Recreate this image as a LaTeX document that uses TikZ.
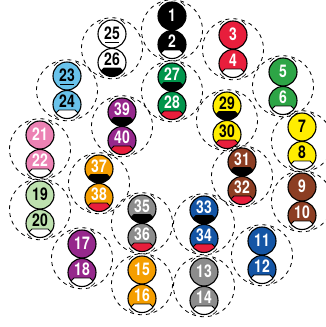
\documentclass[tikz,border=0pt]{standalone}
\usepackage{fontspec}
\newfontfamily\ballfont[FakeStretch=0.8]{TeX Gyre Heros}
\definecolor{kgruen}{RGB}{0,148,75}
\definecolor{kgruenb}{RGB}{45,165,70}
\definecolor{krot}{RGB}{232,30,60}
\definecolor{khellblau}{RGB}{105,195,235}
\definecolor{klila}{RGB}{150,40,140}
\definecolor{kgelb}{RGB}{255,237,0}
\definecolor{krosa}{RGB}{236,130,180}
\definecolor{kbraun}{RGB}{140,62,35}
\definecolor{korange}{RGB}{245,158,0}
\definecolor{khellgruen}{RGB}{190,225,175}
\definecolor{kgrau}{RGB}{140,140,140}
\definecolor{kblau}{RGB}{20,85,165}
\def\keine{none}
\tikzset{
  kugel/.style={circle, draw, line width=1.1pt, minimum size=28pt, inner sep=0pt},
  nummer/.style={inner sep=0pt, font=\ballfont\bfseries\fontsize{17.5}{17.5}\selectfont},
  ring/.style={line width=0.8pt, dash pattern=on 4pt off 4pt},
  tick/.style={line width=0.6pt},
}
% Kugel: Nummer, x, y, Farbe, Schrift, Kappe
\newcommand{\kugel}[6]{%
  \fill[#4] (#2,#3) circle (14);
  \edef\kappe{#6}%
  \ifx\kappe\keine
    \def\hoch{0.5pt}%
  \else
    \def\hoch{3pt}%
    \begin{scope}
      \clip (#2,#3) circle (14);
      \begin{scope}[shift={(#2,#3)}]
        \filldraw[fill=#6, draw=black, line width=0.9pt]
          (-8,5.5) -- (8,5.5) -- (15,12.5) -- (16,20) -- (-16,20) -- (-15,12.5) -- cycle;
      \end{scope}
    \end{scope}
  \fi
  \node[kugel] (k#1) at (#2,#3) {};
  \node[nummer, text=#5] at ([yshift=\hoch]k#1.center) {#1};
}
\begin{document}
\begin{tikzpicture}[x=1pt, y=-1pt]
\useasboundingbox (0,0) rectangle (325,327);
\def\paare{1/172/16/black/white/none/white,
  25/112/34/white/black/none/black,
  27/172/77/kgruen/white/black/krot,
  3/233/35/krot/white/none/white,
  5/283/72/kgruenb/white/none/white,
  23/67/76/khellblau/black/none/white,
  39/122/112/klila/white/black/krot,
  29/227/106/kgelb/black/black/krot,
  7/302/127/kgelb/black/none/white,
  21/40/135/krosa/white/none/white,
  31/242/162/kbraun/white/black/krot,
  37/99/169/korange/white/black/krot,
  9/302/187/kbraun/white/none/white,
  19/40/195/khellgruen/black/none/white,
  35/142/209/kgrau/white/black/krot,
  33/204/210/kblau/white/black/krot,
  11/262/241/kblau/white/none/white,
  17/82/244/klila/white/none/white,
  15/142/270/korange/white/none/white,
  13/204/272/kgrau/white/none/white}
% gestrichelte Kreise:
\foreach \n/\x/\y/\fa/\tx/\ca/\cb in \paare {
  \coordinate (m\n) at (\x,\y+14.25);
  \draw[ring] (m\n) circle (30.5);
}
% Striche an den Kugeln:
\foreach \n/\x/\y/\fa/\tx/\ca/\cb in \paare {
  \begin{scope}[shift={(\x,\y)}]
    \foreach \a in {-142,-58}
      \draw[tick] (\a:16.5) arc[start angle=\a, end angle=\a+20, radius=16.5];
  \end{scope}
  \begin{scope}[shift={(\x,\y+28.5)}]
    \foreach \a in {38,122}
      \draw[tick] (\a:16.5) arc[start angle=\a, end angle=\a+20, radius=16.5];
  \end{scope}
}
% Kugeln:
\foreach \n/\x/\y/\fa/\tx/\ca/\cb in \paare {
  \pgfmathtruncatemacro\m{\n+1}
  \kugel{\n}{\x}{\y}{\fa}{\tx}{\ca}
  \kugel{\m}{\x}{\y+28.5}{\fa}{\tx}{\cb}
}
% Unterstriche:
\foreach \n in {23,25}
  \draw[line width=1pt] ([xshift=-7pt, yshift=-8pt]k\n.center) -- ([xshift=7pt, yshift=-8pt]k\n.center);
\end{tikzpicture}
\end{document}
